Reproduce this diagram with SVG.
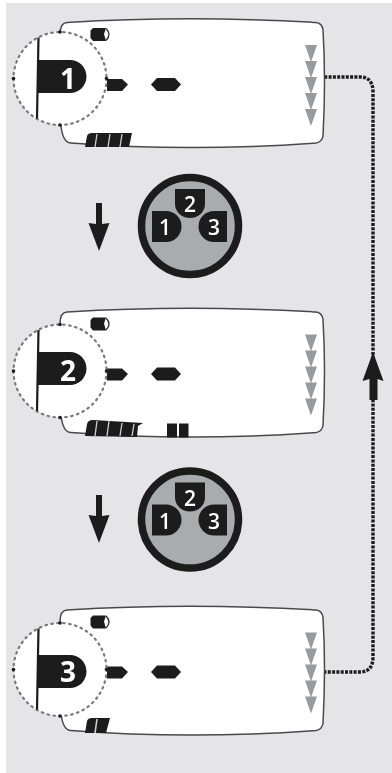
<svg xmlns="http://www.w3.org/2000/svg" width="392" height="773" viewBox="0 0 392 773">
<style>
.body{fill:#fff;stroke:#4a4a4a;stroke-width:1.5}
.lens{fill:#fff;stroke:#7a7a7a;stroke-width:2.2;stroke-dasharray:1.6 4.4;stroke-linecap:round}
.k{fill:#1e1c1d}
.tri{fill:#999a9c}
.num{font-family:"Open Sans","Noto Sans",sans-serif;font-weight:700;fill:#fff;text-anchor:middle}
.plugnum{font-weight:600}
.link{fill:none;stroke:#1e1c1d;stroke-width:3.4;stroke-dasharray:3 1.3}
.slit{fill:none;stroke:#cfcfcf;stroke-width:1.3}
</style>
<defs>
<filter id="soft" x="-5%" y="-5%" width="110%" height="110%"><feGaussianBlur stdDeviation="0.45"/></filter>
<g id="display">
<path class="body" d="M60 34Q60 23 67 22.500Q190 15 316 22.500Q322 23 323 30Q326 80 323 136Q322 142 316 143Q190 152 71 143Q63 143 61 126Z"/>
<path class="tri" d="M305 45h12l-6 17zM305 61h12l-6 17zM305 77h12l-6 17zM305 93h12l-6 17zM305 109h12l-6 17z"/>
<path class="k" d="M90.500 30.500L93 28H106L104 34L106 41H93L90.500 38Z"/>
<path d="M106 28.500Q112 34.500 106 40.500" stroke="#333" stroke-width="1.400" fill="#fff"/>
<path class="k" d="M107 79H122L128 84.500L122 91H107Z"/>
<path class="k" d="M151 84.500L157 78H175L181 84.500L175 91H157Z"/>
</g>
<g id="lens">
<circle class="lens" cx="60" cy="0" r="46.500"/>
<path d="M38.500 -41L37 40" stroke="#1e1c1d" stroke-width="2.200" fill="none"/>
<circle class="k" cx="13.500" cy="0" r="1.800"/>
<circle class="k" cx="60" cy="-46.500" r="1.800"/>
<circle class="k" cx="60" cy="46.500" r="1.800"/>
<circle class="k" cx="106.500" cy="0" r="1.800"/>
</g>
<path id="tab" class="k" d="M37 -16.500H70A16.500 16.500 0 0 1 70 16.500H37Z"/>
<g id="plug">
<circle cx="0" cy="0" r="48.500" fill="#aaabad" stroke="#1e1c1d" stroke-width="7.500"/>
<path class="k" d="M-38 -15H-24A15.500 15.500 0 0 1 -24 16H-38Z"/>
<path class="k" d="M-15 -37H15V-22A15 14 0 0 1 -15 -22Z"/>
<path class="k" d="M37 -15H24A15.500 15.500 0 0 0 24 16H37Z"/>
<text class="num plugnum" x="-25" y="9" font-size="21">1</text>
<text class="num plugnum" x="0" y="-14" font-size="21">2</text>
<text class="num plugnum" x="24" y="9" font-size="21">3</text>
</g>
<path id="down" class="k" d="M96 203H102V224L109.500 223L99 251L88.500 223L96 224Z"/>
</defs>
<rect x="6" y="3" width="386" height="770" fill="#e5e5e7"/>
<g filter="url(#soft)">
<g id="connectors">
<path class="link" d="M320 77H360Q373 77 373 92V657Q373 672 360 672H320"/>
<path class="k" d="M373 352L383.500 381L377.500 379V400H369.500V379L362.500 381Z"/>
<use href="#down"/>
<use href="#down" y="292"/>
</g>
<g id="device-1">
<use href="#display"/>
<use href="#lens" y="78.500"/>
<use href="#tab" y="76.500"/>
<text class="num" x="68" y="89" font-size="28">1</text>
<path class="k" d="M85 147L87 136Q88 133 92 133H132L129 147Z"/>
<path class="slit" d="M97 134L95 147M110 134L108 147M122 134L120 147"/>
</g>
<g id="plug-1"><use href="#plug" x="190" y="226"/></g>
<g id="device-2">
<use href="#display" y="289.500"/>
<use href="#lens" y="371"/>
<use href="#tab" y="368.500"/>
<text class="num" x="68" y="381" font-size="28">2</text>
<path class="k" d="M85 436L87 424Q88 420 93 420L143 423L138 426L137 437Z"/>
<path class="slit" d="M97 421L95 436M109 421L107 436M122 423L120 436M134 424L132 436"/>
<path class="k" d="M167 423.500H177V437.500H167ZM179 423.500H188.500V437.500H179Z"/>
</g>
<g id="plug-2"><use href="#plug" x="190" y="519.500"/></g>
<g id="device-3">
<use href="#display" y="587.500"/>
<use href="#lens" y="669.500"/>
<use href="#tab" y="671.500"/>
<text class="num" x="68" y="682" font-size="28">3</text>
<path class="k" d="M85 733L87 721Q88 718 92 718H110L106 733Z"/>
<path class="slit" d="M97 719L95 733" style="stroke-width:1.600"/>
</g>
</g>
</svg>
